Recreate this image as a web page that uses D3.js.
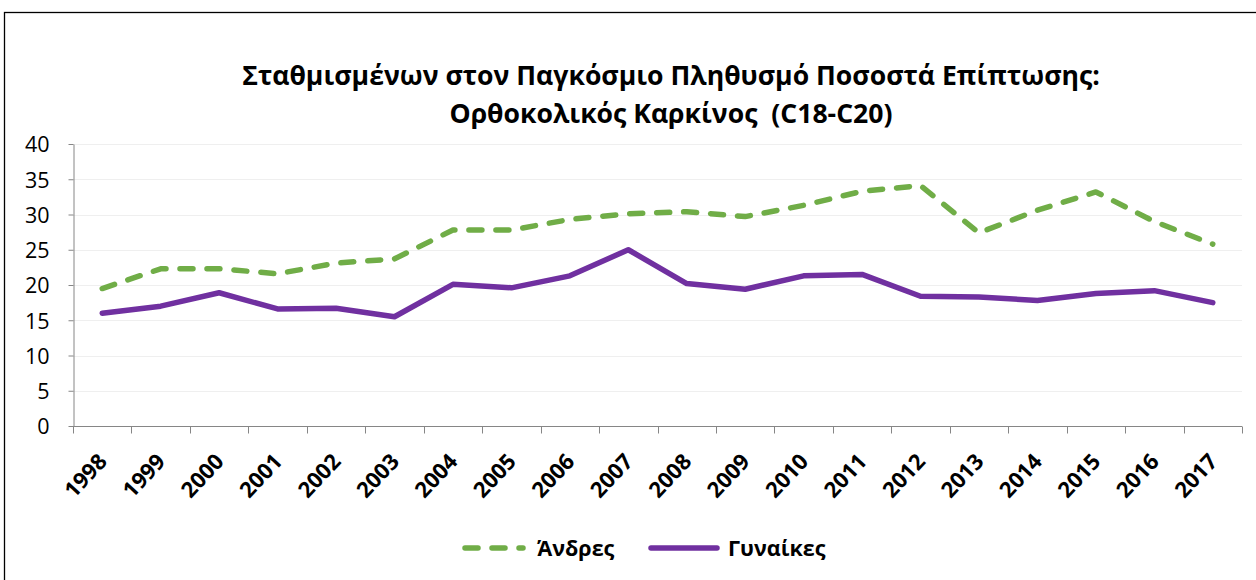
<!DOCTYPE html>
<html>
<head>
<meta charset="utf-8">
<script src="https://cdn.jsdelivr.net/npm/d3@7"></script>
<style>
  body { margin: 0; background: #fff; }
  text { font-family: "Open Sans", "Noto Sans", sans-serif; fill: #000; }
</style>
</head>
<body>
<div id="chart"></div>
<script>
const years = ['1998','1999','2000','2001','2002','2003','2004','2005','2006','2007',
  '2008','2009','2010','2011','2012','2013','2014','2015','2016','2017']
const men = [19.5, 22.3, 22.3, 21.6, 23.1, 23.7, 27.8, 27.8, 29.3, 30.1,
  30.4, 29.7, 31.3, 33.3, 34.1, 27.4, 30.6, 33.2, 29.0, 25.8]
const women = [16.0, 17.0, 18.9, 16.6, 16.7, 15.5, 20.1, 19.6, 21.3, 25.0,
  20.2, 19.4, 21.3, 21.5, 18.4, 18.3, 17.8, 18.8, 19.2, 17.5]
const yTicks = [0, 5, 10, 15, 20, 25, 30, 35, 40]
const titleLines = ['Σταθμισμένων στον Παγκόσμιο Πληθυσμό Ποσοστά Επίπτωσης:',
  'Ορθοκολικός Καρκίνος  (C18-C20)']
const seriesNames = ['Άνδρες', 'Γυναίκες']

const width = 1256, height = 580
const margin = { left: 73, right: 14, top: 144, bottom: 154 }

const svg = d3.select('#chart').append('svg')
  .attr('width', width)
  .attr('height', height)

// outer frame
svg.append('rect')
  .attr('x', 4.5).attr('y', 12.5)
  .attr('width', width + 10).attr('height', height + 10)
  .attr('fill', 'none')
  .attr('stroke', '#000')
  .attr('stroke-width', 1.3)

// title
svg.append('g').selectAll('text')
  .data(titleLines)
  .join('text')
  .attr('x', 671)
  .attr('y', (d, i) => 85 + i * 38)
  .attr('text-anchor', 'middle')
  .attr('xml:space', 'preserve')
  .style('white-space', 'pre')
  .style('font-weight', 'bold')
  .style('font-size', '26.6px')
  .text(d => d)

const x = d3.scaleBand()
  .domain(years)
  .range([margin.left, width - margin.right])

const y = d3.scaleLinear()
  .domain([0, 40])
  .range([height - margin.bottom, margin.top])

// gridlines
svg.append('g')
  .selectAll('line')
  .data(yTicks.filter(t => t > 0))
  .join('line')
  .attr('x1', margin.left)
  .attr('x2', width - margin.right)
  .attr('y1', d => Math.round(y(d)) + 0.5)
  .attr('y2', d => Math.round(y(d)) + 0.5)
  .attr('stroke', '#efefef')
  .attr('stroke-width', 1)

// y axis
const gy = svg.append('g')
  .attr('transform', `translate(${margin.left + 0.5},0)`)
  .call(d3.axisLeft(y).tickValues(yTicks).tickSize(5).tickPadding(19).tickSizeOuter(0))
gy.select('.domain').attr('stroke', '#868686')
gy.selectAll('.tick line').attr('stroke', '#868686')
gy.selectAll('.tick text')
  .attr('dy', '0.36em')
  .style('font-size', '21.5px')
  .style('font-family', '"Open Sans", "Noto Sans", sans-serif')

// x axis
const gx = svg.append('g')
  .attr('transform', `translate(0,${Math.round(y(0)) + 0.5})`)
gx.append('line')
  .attr('x1', margin.left).attr('x2', width - margin.right)
  .attr('stroke', '#868686')
gx.selectAll('.xtick')
  .data(years.concat(['end']))
  .join('line')
  .attr('class', 'xtick')
  .attr('x1', (d, i) => Math.round(margin.left + i * x.step()) + 0.5)
  .attr('x2', (d, i) => Math.round(margin.left + i * x.step()) + 0.5)
  .attr('y1', 0).attr('y2', 7)
  .attr('stroke', '#868686')
gx.selectAll('.xlabel')
  .data(years)
  .join('text')
  .attr('class', 'xlabel')
  .attr('text-anchor', 'end')
  .attr('transform', d => `translate(${x(d) + x.bandwidth() / 2 + 6},${36}) rotate(-47)`)
  .style('font-size', '22px')
  .style('font-weight', 'bold')
  .text(d => d)

// lines
const line = d3.line()
  .x((d, i) => x(years[i]) + x.bandwidth() / 2)
  .y(d => y(d))

svg.append('path')
  .datum(men)
  .attr('d', line)
  .attr('fill', 'none')
  .attr('stroke', '#70ad47')
  .attr('stroke-width', 5.5)
  .attr('stroke-linecap', 'round')
  .attr('stroke-linejoin', 'round')
  .attr('stroke-dasharray', '13 14')

svg.append('path')
  .datum(women)
  .attr('d', line)
  .attr('fill', 'none')
  .attr('stroke', '#7030a0')
  .attr('stroke-width', 5.5)
  .attr('stroke-linecap', 'round')
  .attr('stroke-linejoin', 'round')

// legend
const legend = svg.append('g').attr('transform', 'translate(0,548)')
const legendItems = [
  { name: seriesNames[0], color: '#70ad47', dash: '13 14', x: 465, x2: 523, tx: 537 },
  { name: seriesNames[1], color: '#7030a0', dash: null, x: 651, x2: 717, tx: 728 }
]
legendItems.forEach(d => {
  legend.append('line')
    .attr('x1', d.x).attr('x2', d.x2)
    .attr('y1', 0).attr('y2', 0)
    .attr('stroke', d.color)
    .attr('stroke-width', 5.5)
    .attr('stroke-linecap', 'round')
    .attr('stroke-dasharray', d.dash)
  legend.append('text')
    .attr('x', d.tx)
    .attr('y', 8)
    .style('font-size', '21.5px')
    .style('font-weight', 'bold')
    .text(d.name)
})
</script>
</body>
</html>
